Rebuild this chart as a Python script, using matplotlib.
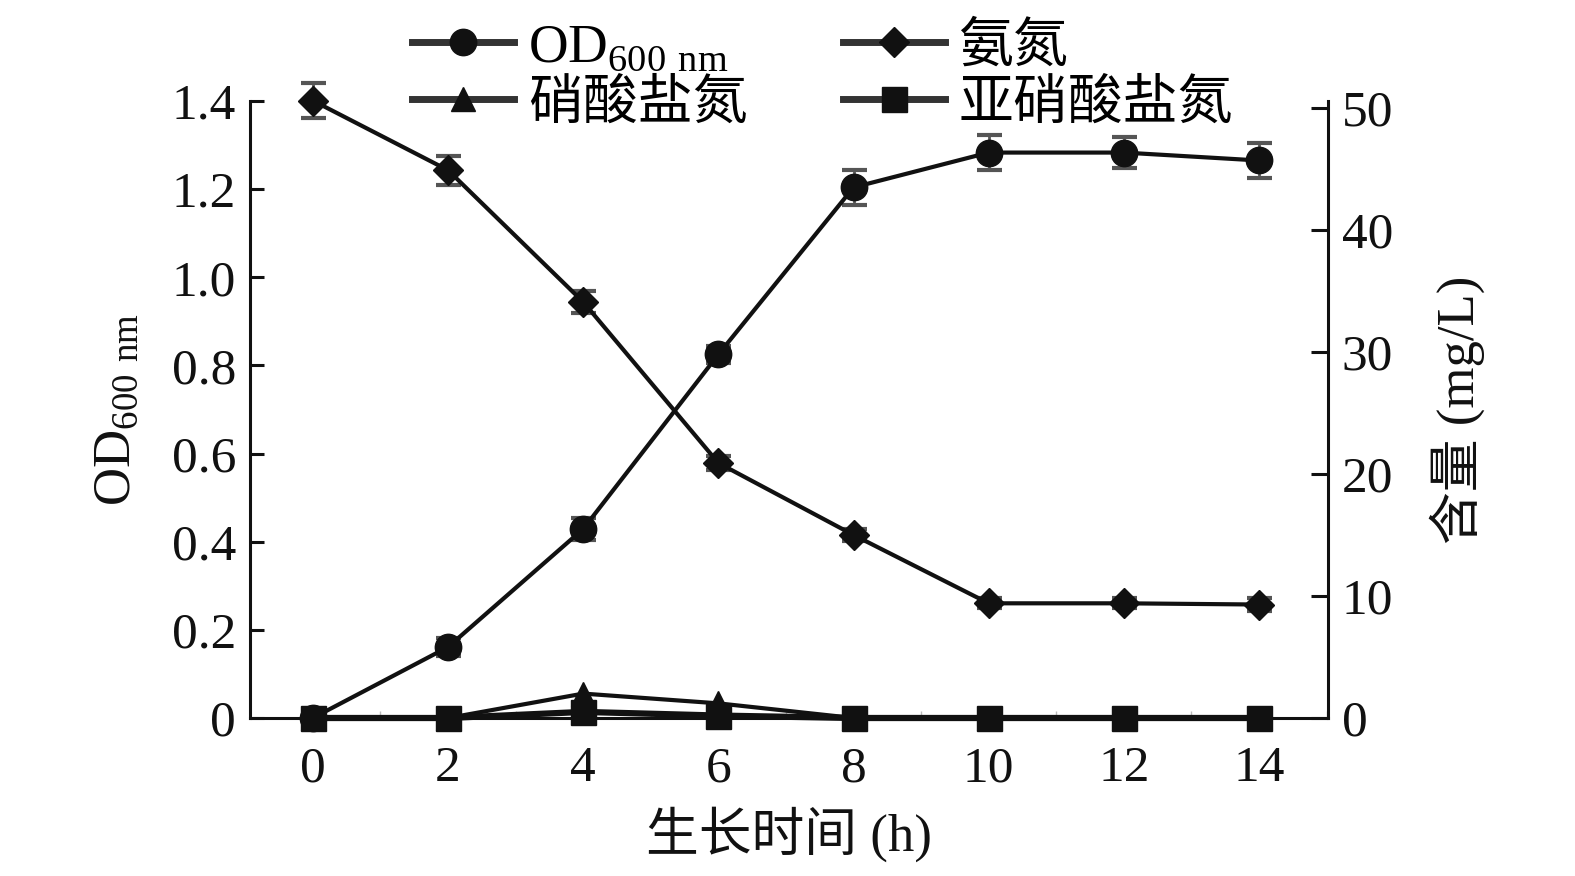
import matplotlib
matplotlib.use("Agg")
import matplotlib.pyplot as plt
from matplotlib.ticker import FuncFormatter, MultipleLocator

plt.rcParams['font.family'] = ['Liberation Serif', 'Noto Sans CJK SC']
plt.rcParams['mathtext.fontset'] = 'custom'
plt.rcParams['mathtext.rm'] = 'Liberation Serif'

hours = [0, 2, 4, 6, 8, 10, 12, 14]
od600 = [0.0, 0.161, 0.429, 0.825, 1.204, 1.283, 1.283, 1.265]
od600_err = [0.01, 0.02, 0.025, 0.02, 0.039, 0.04, 0.035, 0.04]
ammonia = [50.6, 44.9, 34.1, 20.9, 15.0, 9.4, 9.4, 9.3]
ammonia_err = [1.45, 1.2, 0.9, 0.6, 0.5, 0.4, 0.4, 0.5]
nitrate = [0.0, 0.0, 2.0, 1.2, 0.0, 0.0, 0.0, 0.0]
nitrite = [0.0, 0.0, 0.5, 0.2, 0.0, 0.0, 0.0, 0.0]

labels = ['OD$_{\\mathregular{600\\ nm}}$', '氨氮', '硝酸盐氮', '亚硝酸盐氮']

fig = plt.figure(figsize=(15.75, 8.76), dpi=100)
ax = fig.add_axes([250/1575, 1-718/876, (1328-250)/1575, (718-101)/876])
ax2 = ax.twinx()

k = '#111111'
ecol = '#555555'

ax.set_xlim(-0.93, 15.02)
ax.set_ylim(0, 1.4)
ax2.set_ylim(0, 50.57)

h_od = ax.errorbar(hours, od600, yerr=od600_err, color=k, marker='o', ms=19,
                   lw=3, ecolor=ecol, elinewidth=2, capsize=9, capthick=3, zorder=4)
h_nh = ax2.errorbar(hours, ammonia, yerr=ammonia_err, color=k, marker='D', ms=15,
                    lw=3, ecolor=ecol, elinewidth=2, capsize=9, capthick=3, zorder=4)
h_no3, = ax2.plot(hours, nitrate, color=k, marker='^', ms=17, lw=3, zorder=3)
h_no2, = ax2.plot(hours, nitrite, color=k, marker='s', ms=18, lw=4.5, zorder=3)
for cont in (h_od, h_nh):
    for art in cont.get_children():
        art.set_clip_on(False)
h_no3.set_clip_on(False)
h_no2.set_clip_on(False)

for a in (ax, ax2):
    a.spines['top'].set_visible(False)
    for s in ('left', 'right', 'bottom'):
        a.spines[s].set_linewidth(2.2)
        a.spines[s].set_color(k)
ax.spines['right'].set_visible(False)
ax2.spines['left'].set_visible(False)
ax2.spines['bottom'].set_visible(False)

ax.set_xticks(hours)
ax.xaxis.set_minor_locator(MultipleLocator(1))
ax.tick_params(axis='x', which='major', direction='in', length=8, width=2,
               labelsize=37, pad=20, colors=k)
ax.tick_params(axis='x', which='minor', direction='in', length=5, width=1, color='#bbbbbb')
ax.set_yticks([0, 0.2, 0.4, 0.6, 0.8, 1.0, 1.2, 1.4])
ax.yaxis.set_major_formatter(FuncFormatter(lambda v, p: '0' if abs(v) < 1e-9 else f'{v:.1f}'))
ax.tick_params(axis='y', direction='in', length=10, width=2.2, labelsize=37, pad=10, colors=k)
ax2.set_yticks([0, 10, 20, 30, 40, 50])
ax2.tick_params(axis='y', direction='in', length=12, width=2.2, labelsize=37, pad=10, colors=k)

ax.set_xlabel('生长时间 (h)', fontsize=38, labelpad=10, color=k)
ax.set_ylabel(labels[0], fontsize=38, labelpad=22, color=k)
ax2.set_ylabel('含量 (mg/L)', fontsize=38, labelpad=26, color=k)

leg = fig.legend([h_od[0], h_no3, h_nh[0], h_no2],
                 [labels[0], labels[2], labels[1], labels[3]],
                 ncol=2, loc='upper left', bbox_to_anchor=(385/1575, 1.005),
                 frameon=False, fontsize=39.5, handlelength=1.85, handletextpad=0.25,
                 columnspacing=1.75, labelspacing=0.12, borderaxespad=0.1)
for ln in leg.get_lines():
    ln.set_linewidth(5)
    ln.set_color('#333333')
    ln.set_markerfacecolor(k)
    ln.set_markeredgecolor(k)

fig.savefig('out.png', dpi=100)
